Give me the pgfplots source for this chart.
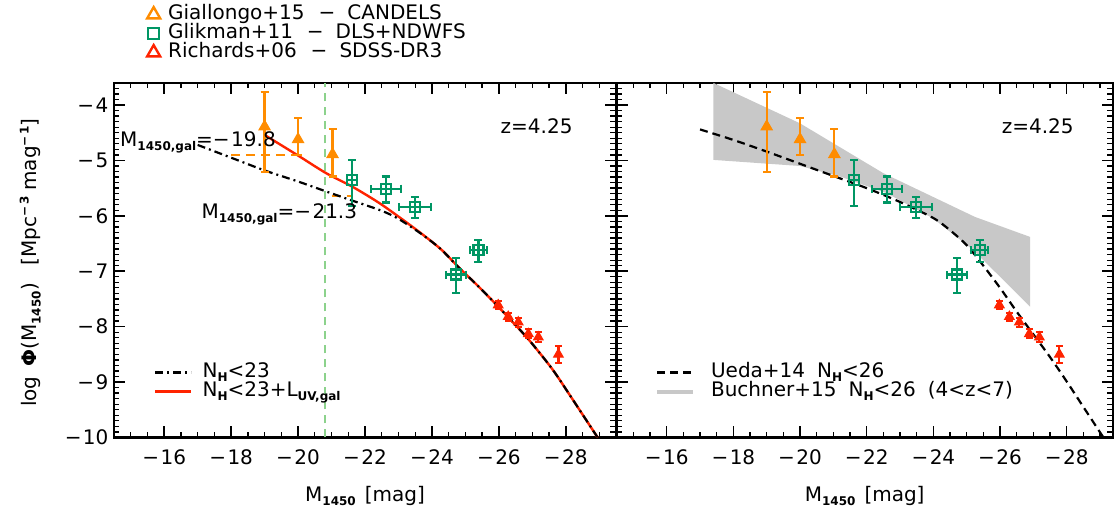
\documentclass[border=0pt]{standalone}
\usepackage{fontspec}
\setmainfont{DejaVu Sans}
\usepackage{pgfplots}
\usepackage{pgfplotstable}
\pgfplotsset{compat=1.18}
\definecolor{gorange}{RGB}{255,140,0}
\definecolor{ggreen}{RGB}{0,150,100}
\definecolor{rred}{RGB}{255,35,0}
\definecolor{lgreen}{RGB}{140,210,140}
\definecolor{bandgray}{RGB}{200,200,200}
\newcommand{\sbs}[1]{\raisebox{-4pt}{\fontsize{12}{12}\selectfont\bfseries #1}}
\newcommand{\sps}[1]{\raisebox{8pt}{\fontsize{12}{12}\selectfont\bfseries #1}}
\newcommand{\mn}{−\kern1.5pt}
\newcommand{\bigf}{\fontsize{20}{24}\selectfont}

\pgfplotstableread{
x y ep em
-19.00 -4.39 0.62 0.82
-20.00 -4.62 0.39 0.28
-21.03 -4.89 0.46 0.40
}\giallongo
\pgfplotstableread{
x y xe ep em
-21.62 -5.36 0.00 0.37 0.46
-22.62 -5.51 0.45 0.22 0.25
-23.49 -5.84 0.48 0.18 0.20
-24.71 -7.06 0.30 0.30 0.34
-25.39 -6.62 0.25 0.18 0.21
}\glikman
\pgfplotstableread{
x y ep em
-25.98 -7.61 0.07 0.07
-26.28 -7.82 0.07 0.07
-26.58 -7.92 0.08 0.08
-26.88 -8.13 0.08 0.08
-27.18 -8.19 0.09 0.09
-27.78 -8.50 0.15 0.15
}\richards

\pgfplotsset{
  panel/.style={
    scale only axis, height=354.5pt, x dir=reverse,
    ymin=-10, ymax=-3.6,
    xtick={-28,-26,-24,-22,-20,-18,-16},
    xticklabels={\mn28,\mn26,\mn24,\mn22,\mn20,\mn18,\mn16},
    minor xtick={-29.5,-29,...,-14.5},
    ytick={-10,-9,-8,-7,-6,-5,-4},
    minor ytick={-10,-9.9,...,-3.6},
    tick align=inside,
    major tick length=11pt, minor tick length=5.5pt,
    axis line style={line width=2.4pt},
    every tick/.style={black, line width=1.5pt},
    every minor tick/.style={black, line width=1.3pt},
    tick label style={font=\bigf},
    xticklabel style={yshift=-9pt},
    yticklabel style={xshift=-2pt},
    label style={font=\bigf},
    xlabel={M\sbs{1450}\hspace{9pt}[mag]},
    xlabel style={at={(axis description cs:0.5,-0.165)}, anchor=center},
    legend cell align=left,
    legend style={draw=none, fill=none, inner sep=0pt, font=\bigf,
      nodes={inner sep=0pt, text height=14pt, text depth=5pt}},
  },
  orangepts/.style={only marks, color=gorange, mark=triangle*, mark size=6.5pt,
    mark options={fill=gorange, line width=1pt},
    error bars/.cd, y dir=both, y explicit,
    error bar style={line width=2.2pt, gorange},
    error mark options={rotate=90, mark size=4pt, line width=2.2pt, gorange}},
  greenpts/.style={only marks, color=ggreen, mark=square, mark size=5pt,
    mark options={line width=2.2pt},
    error bars/.cd, y dir=both, y explicit, x dir=both, x explicit,
    error bar style={line width=2.2pt, ggreen},
    error mark options={rotate=90, mark size=4pt, line width=2.2pt, ggreen}},
  redpts/.style={only marks, color=rred, mark=triangle*, mark size=5.5pt,
    mark options={fill=rred, line width=1pt},
    error bars/.cd, y dir=both, y explicit,
    error bar style={line width=2.2pt, rred},
    error mark options={rotate=90, mark size=3.5pt, line width=2.2pt, rred}},
}

\begin{document}
\begin{tikzpicture}
\path (0pt,0pt) rectangle (1117pt,520pt);

% ---------- top legend (data sources) ----------
\begin{axis}[panel, at={(114pt,82.6pt)}, anchor=south west, width=502pt,
  xmin=-29.5, xmax=-14.5, hide axis, xlabel={},
  legend style={at={(axis description cs:0.0657,1.22)}, anchor=north west},
  legend image code/.code={\draw[#1] plot coordinates {(0pt,0pt)};}]
\addlegendimage{only marks, mark=triangle, mark size=7.5pt, gorange, line width=2.4pt}
\addlegendentry{\kern8pt Giallongo+15\hspace{14pt}−\hspace{12pt}CANDELS}
\addlegendimage{only marks, mark=square, mark size=5.5pt, ggreen, line width=2.4pt}
\addlegendentry{\kern8pt Glikman+11\hspace{14pt}−\hspace{12pt}DLS+NDWFS}
\addlegendimage{only marks, mark=triangle, mark size=7.5pt, rred, line width=2.4pt}
\addlegendentry{\kern8pt Richards+06\hspace{14pt}−\hspace{12pt}SDSS-DR3}
\end{axis}

% ---------- left panel ----------
\begin{axis}[panel, at={(114pt,82.6pt)}, anchor=south west, width=502pt,
  xmin=-29.5, xmax=-14.5,
  yticklabels={\mn10,\mn9,\mn8,\mn7,\mn6,\mn5,\mn4},
  ylabel={log\hspace{10pt}\textbf{Φ}(M\sbs{1450})\hspace{18pt}[Mpc\sps{\mn3}\hspace{6pt}mag\sps{\mn1}]},
  ylabel style={at={(axis description cs:-0.167,0.493)}, anchor=center},
  legend style={at={(axis description cs:0.0797,0.156)}, anchor=west},
  legend image code/.code={\draw[#1] (0pt,0pt) -- (36pt,0pt);}]
\addlegendimage{black, line width=2.2pt, dash pattern=on 8pt off 4pt on 2pt off 4pt}
\addlegendentry{\kern10pt N\sbs{H}<23}
\addlegendimage{rred, line width=2.4pt}
\addlegendentry{\kern10pt N\sbs{H}<23+L\sbs{UV,gal}}

\addplot[forget plot, lgreen, line width=2pt, dash pattern=on 8pt off 6pt]
  coordinates {(-20.8,-10) (-20.8,-3.6)};
\addplot[forget plot, gorange, line width=2.4pt, dash pattern=on 9pt off 6pt]
  coordinates {(-18.0,-4.905) (-20.0,-4.905)};
\addplot[forget plot, gorange, line width=2.4pt, dash pattern=on 9pt off 6pt]
  coordinates {(-21.0,-5.64) (-21.6,-5.64)};
\addplot[forget plot, rred, line width=2.4pt, smooth, tension=0.5] coordinates {
  (-19.0,-4.54) (-19.97,-4.90) (-20.84,-5.23) (-21.64,-5.48) (-22.43,-5.77)
  (-23.13,-6.07) (-23.75,-6.35) (-24.3,-6.62) (-24.8,-6.93) (-25.4,-7.28)
  (-25.95,-7.62) (-26.4,-7.91) (-26.9,-8.24) (-27.6,-8.77) (-28.2,-9.31)
  (-28.95,-10.0)};
\addplot[forget plot, black, line width=2.2pt, smooth, tension=0.5, dash pattern=on 8pt off 4pt on 2pt off 4pt] coordinates {
  (-17.0,-4.72) (-18.0,-4.95) (-19.0,-5.18) (-20.0,-5.38) (-20.84,-5.56)
  (-21.5,-5.70) (-22.46,-5.90) (-22.96,-6.04) (-23.55,-6.27) (-23.96,-6.45)
  (-24.3,-6.62) (-24.8,-6.93) (-25.4,-7.28) (-25.95,-7.62) (-26.4,-7.91)
  (-26.9,-8.24) (-27.6,-8.77) (-28.2,-9.31) (-28.95,-10.0)};
\addplot[forget plot, orangepts] table[x=x, y=y, y error plus=ep, y error minus=em] {\giallongo};
\addplot[forget plot, greenpts] table[x=x, y=y, x error=xe, y error plus=ep, y error minus=em] {\glikman};
\addplot[forget plot, redpts] table[x=x, y=y, y error plus=ep, y error minus=em] {\richards};

\node[anchor=base west, font=\bigf, inner sep=0pt] at (axis cs:-14.68,-4.75) {M\sbs{1450,gal}=\mn19.8};
\node[anchor=base west, font=\bigf, inner sep=0pt] at (axis cs:-17.11,-6.04) {M\sbs{1450,gal}=\mn21.3};
\node[anchor=base west, font=\bigf, inner sep=0pt] at (axis cs:-26.05,-4.52) {z=4.25};
\end{axis}

% ---------- right panel ----------
\begin{axis}[panel, at={(616.7pt,82.6pt)}, anchor=south west, width=496pt,
  xmin=-29.38, xmax=-14.5, minor xtick={-29,-28.5,...,-14.5},
  yticklabels={,,,,,,},
  legend style={at={(axis description cs:0.077,0.156)}, anchor=west},
  legend image code/.code={\draw[#1] (0pt,0pt) -- (36pt,0pt);}]
\addlegendimage{black, line width=2.2pt, dash pattern=on 8pt off 5pt}
\addlegendentry{\kern16pt Ueda+14\hspace{12pt}N\sbs{H}<26}
\addlegendimage{bandgray, line width=4pt}
\addlegendentry{\kern16pt Buchner+15\hspace{12pt}N\sbs{H}<26\hspace{12pt}(4<z<7)}

\addplot[forget plot, fill=bandgray, draw=none] coordinates {
  (-17.4,-3.6) (-20.0,-4.33) (-22.5,-5.23) (-25.25,-6.02) (-26.9,-6.38)
  (-26.9,-7.64) (-26.1,-7.16) (-25.2,-6.62) (-24.0,-6.05) (-22.6,-5.59)
  (-21.2,-5.29) (-20.0,-5.10) (-17.4,-4.99)} -- cycle;
\addplot[forget plot, black, line width=2.2pt, smooth, tension=0.5, dash pattern=on 8pt off 5pt] coordinates {
  (-17.0,-4.44) (-18.0,-4.63) (-19.0,-4.84) (-20.0,-5.06) (-21.0,-5.28)
  (-22.0,-5.50) (-23.0,-5.75) (-24.0,-6.04) (-24.5,-6.26) (-25.0,-6.53)
  (-25.5,-6.90) (-26.0,-7.30) (-26.5,-7.73) (-27.0,-8.14) (-27.5,-8.55)
  (-28.0,-8.99) (-28.5,-9.45) (-29.1,-10.0)};
\addplot[forget plot, orangepts] table[x=x, y=y, y error plus=ep, y error minus=em] {\giallongo};
\addplot[forget plot, greenpts] table[x=x, y=y, x error=xe, y error plus=ep, y error minus=em] {\glikman};
\addplot[forget plot, redpts] table[x=x, y=y, y error plus=ep, y error minus=em] {\richards};

\node[anchor=base west, font=\bigf, inner sep=0pt] at (axis cs:-26.05,-4.52) {z=4.25};
\end{axis}
\end{tikzpicture}
\end{document}
